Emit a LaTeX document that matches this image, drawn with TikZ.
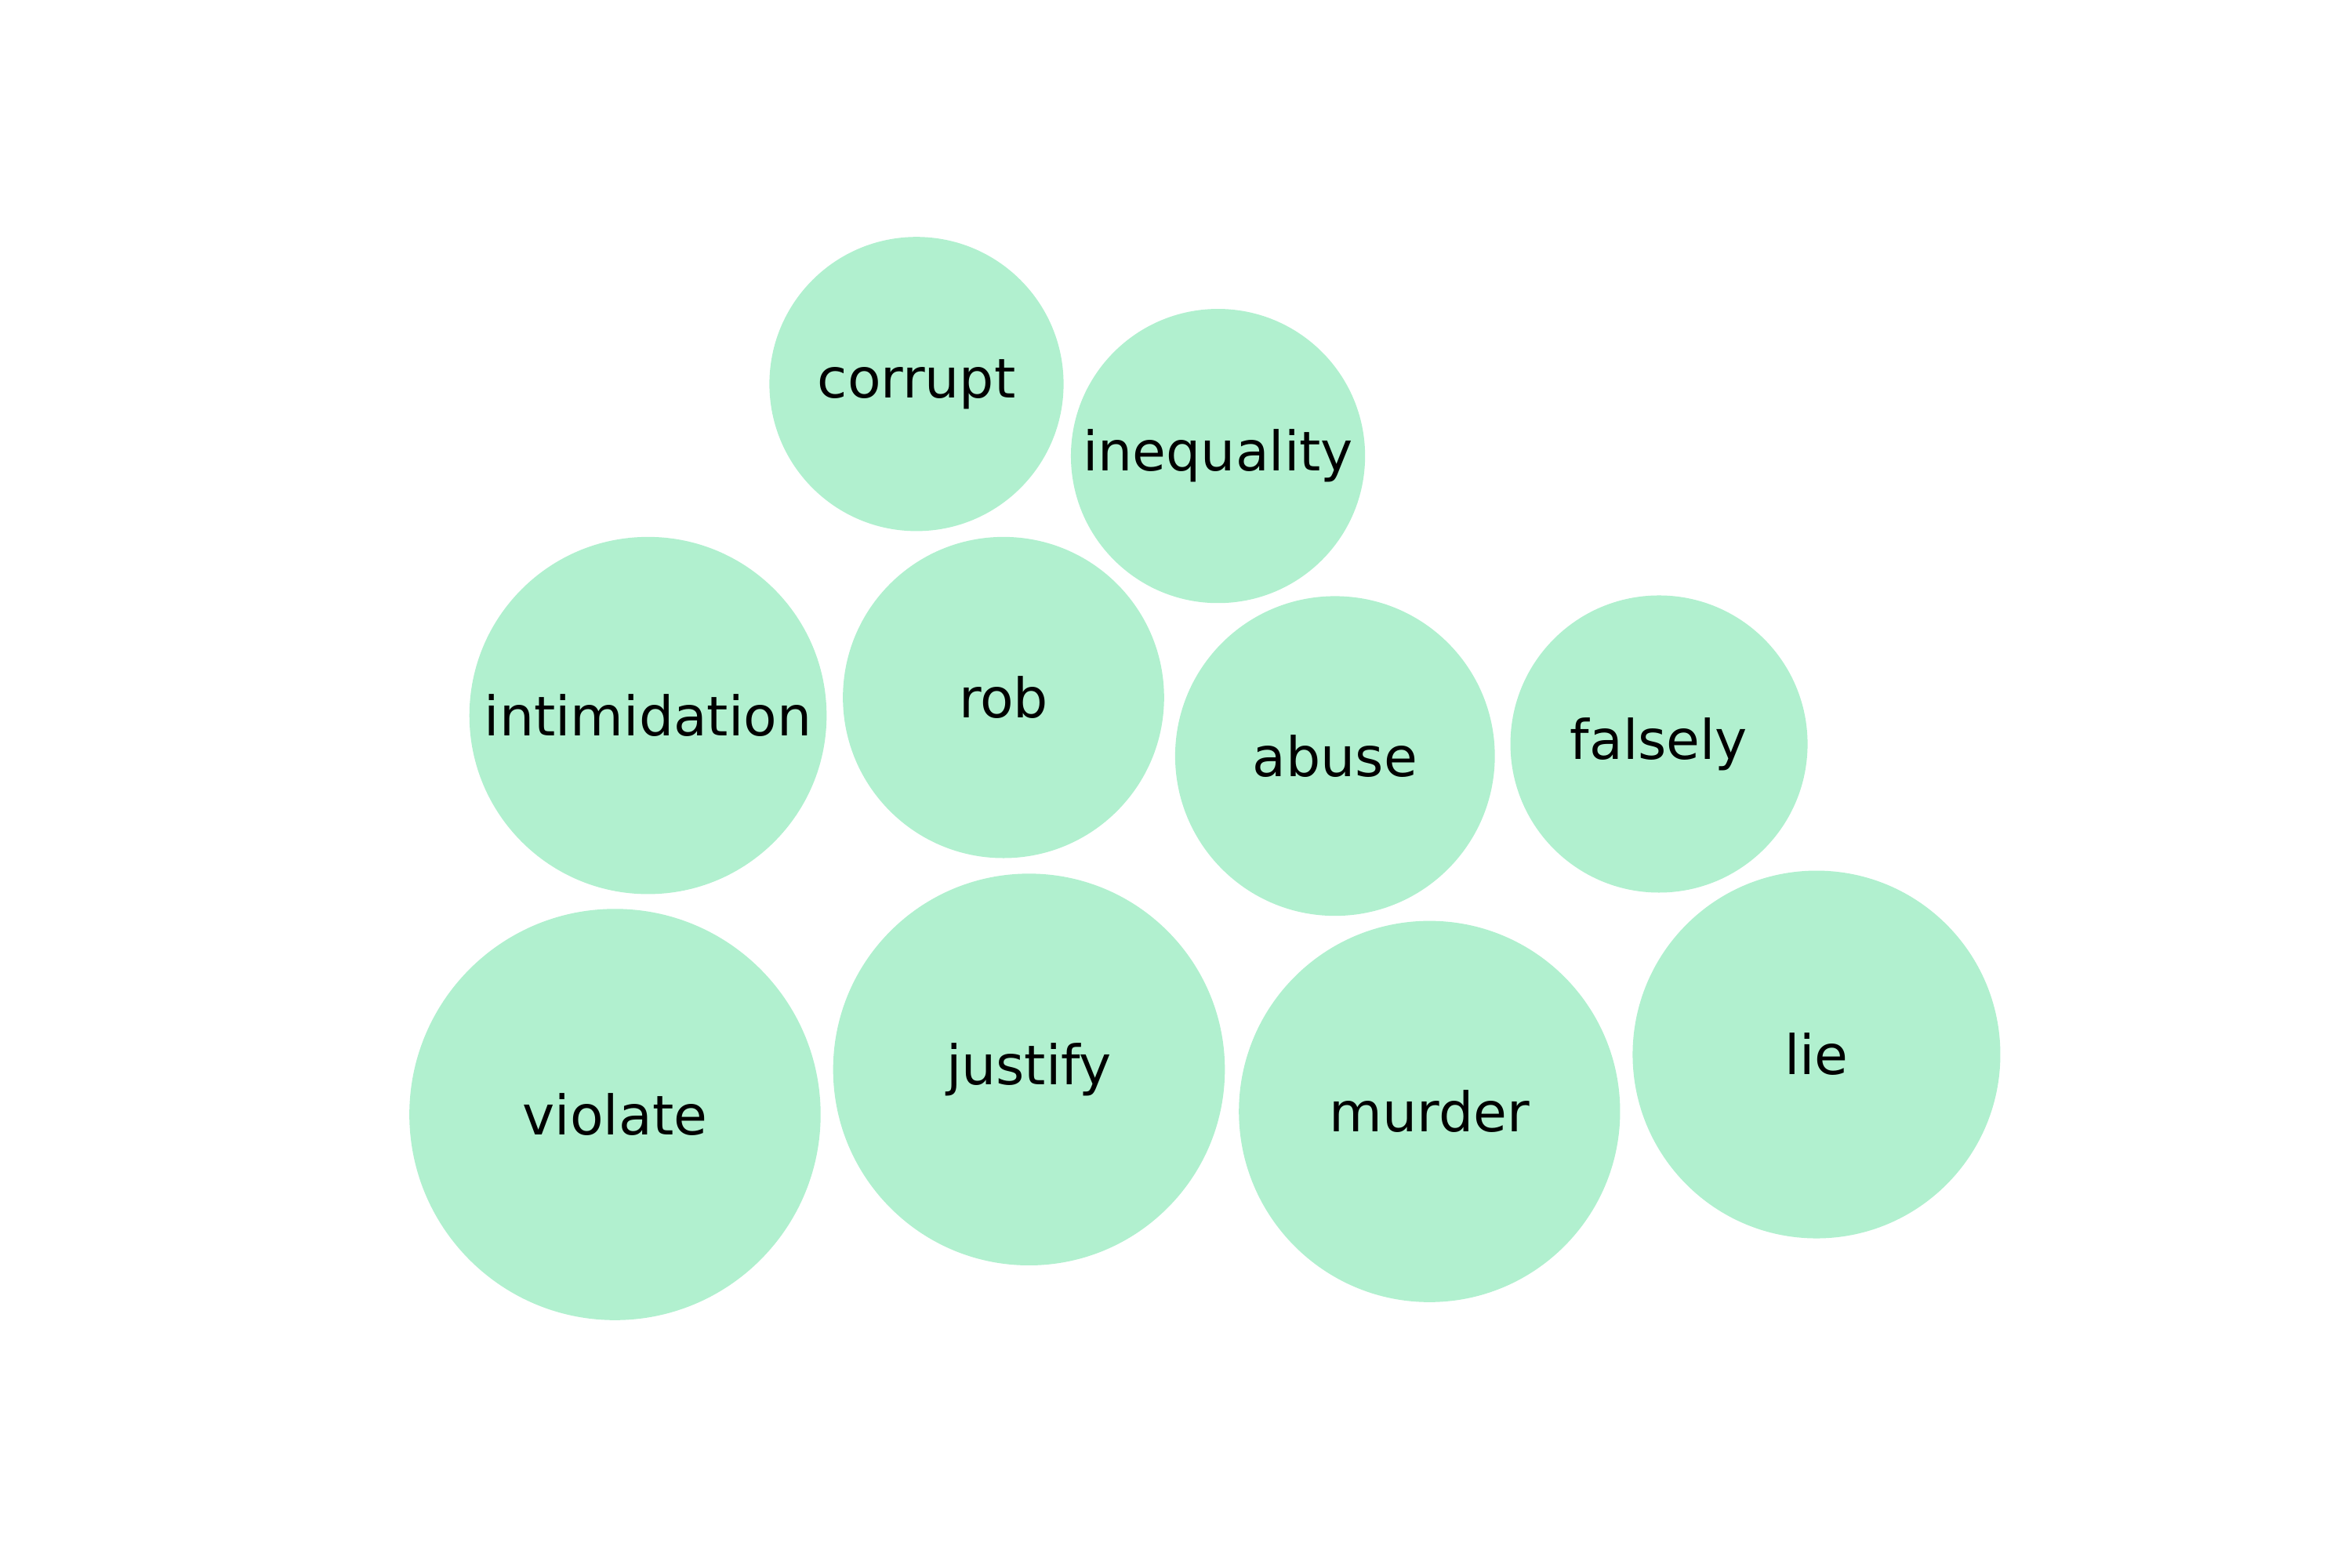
\documentclass[tikz,border=0pt]{standalone}
\usepackage{fontspec}
\setmainfont{DejaVu Sans}
\usepackage{tikz}
\usetikzlibrary{shapes}
\definecolor{bubblegreen}{HTML}{B1F0CF}
\tikzstyle{bubble} = [circle, fill=bubblegreen, draw=none, inner sep=0pt, text centered, font=\fontsize{10.35}{12}\selectfont]

\begin{document}
\begin{tikzpicture}[x=0.01cm, y=-0.01cm]
    \useasboundingbox (0,0) rectangle (1568,1045);
    \node[bubble, minimum size=1.96cm](corrupt) at (611,256){corrupt};
    \node[bubble, minimum size=1.96cm](inequality) at (812,304){inequality};
    \node[bubble, minimum size=2.38cm](intimidation) at (432,477){intimidation};
    \node[bubble, minimum size=2.14cm](rob) at (669,465){rob};
    \node[bubble, minimum size=2.13cm](abuse) at (890,504){abuse};
    \node[bubble, minimum size=1.98cm](falsely) at (1106,496){falsely};
    \node[bubble, minimum size=2.74cm](violate) at (410,743){violate};
    \node[bubble, minimum size=2.61cm](justify) at (686,713){justify};
    \node[bubble, minimum size=2.54cm](murder) at (953,741){murder};
    \node[bubble, minimum size=2.45cm](lie) at (1211,703){lie};
\end{tikzpicture}
\end{document}
